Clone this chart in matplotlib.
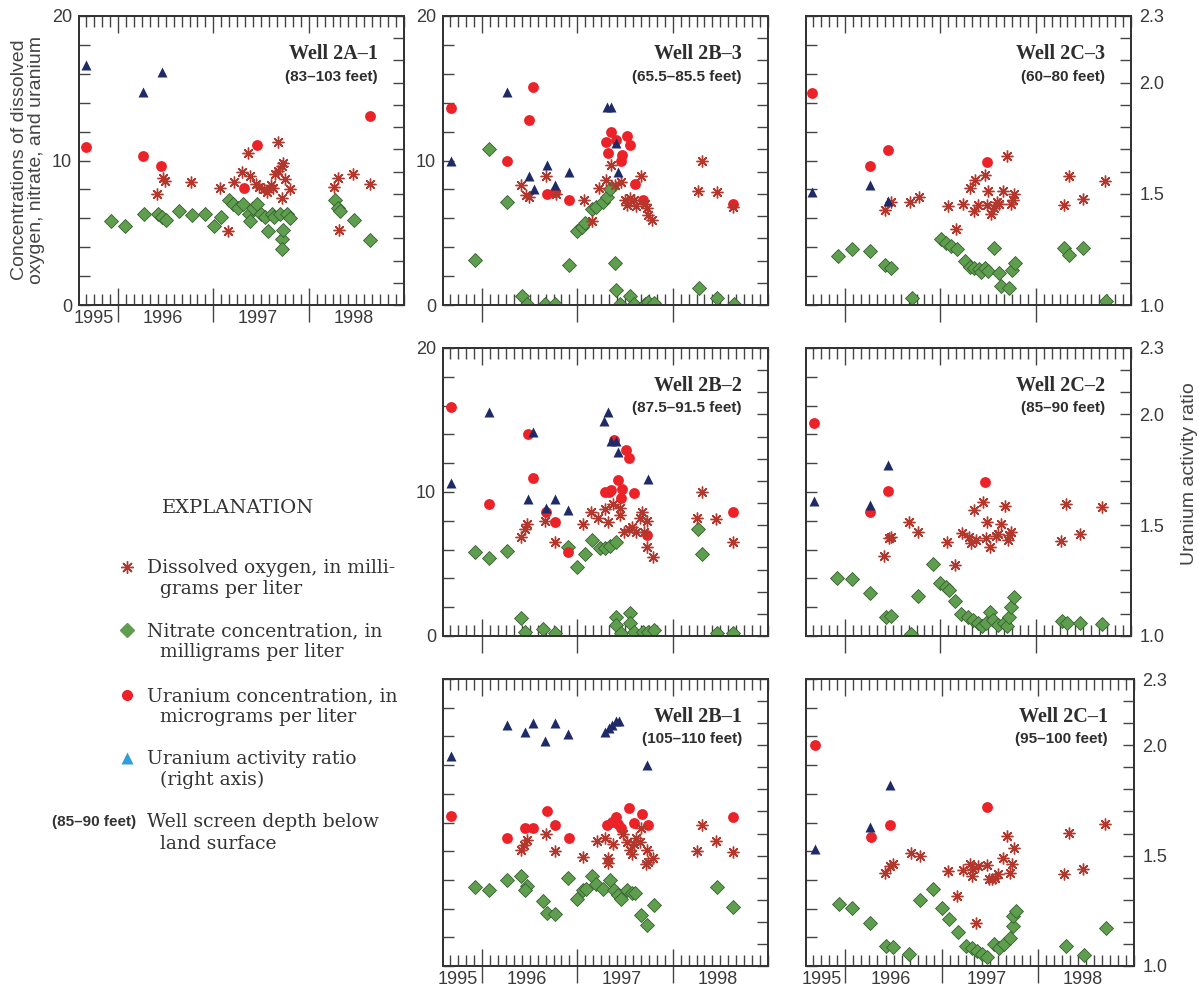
import matplotlib
matplotlib.use('Agg')
import matplotlib.pyplot as plt
import matplotlib.transforms as mtransforms
from matplotlib.ticker import MultipleLocator, FormatStrFormatter
import numpy as np

# values: (decimal year, value)
# oxygen / nitrate in mg/L, uranium in ug/L (left axis), activity ratio (right axis)

# Well 2A-1
A1_OXY = [(1996.41, 7.7), (1996.47, 8.8), (1996.49, 8.6), (1996.76, 8.5), (1997.07, 8.1), (1997.15, 5.1),
          (1997.22, 8.5), (1997.30, 9.2), (1997.36, 10.5), (1997.38, 8.9), (1997.45, 8.4), (1997.48, 8.2),
          (1997.53, 8.0), (1997.56, 7.8), (1997.60, 8.3), (1997.63, 8.1), (1997.65, 9.1), (1997.68, 9.3),
          (1997.68, 11.3), (1997.72, 9.6), (1997.73, 9.8), (1997.72, 7.4), (1997.75, 8.7), (1997.80, 8.0),
          (1998.27, 8.2), (1998.31, 8.8), (1998.32, 5.2), (1998.46, 9.1), (1998.64, 8.4)]
A1_NO3 = [(1995.93, 5.8), (1996.07, 5.5), (1996.27, 6.3), (1996.42, 6.3), (1996.46, 6.1), (1996.50, 5.9),
          (1996.64, 6.5), (1996.78, 6.2), (1996.91, 6.3), (1997.01, 5.5), (1997.08, 6.1), (1997.16, 7.3),
          (1997.21, 7.0), (1997.26, 6.7), (1997.31, 7.0), (1997.37, 6.3), (1997.38, 5.8), (1997.42, 6.7),
          (1997.46, 7.0), (1997.50, 6.3), (1997.54, 6.1), (1997.57, 5.1), (1997.61, 6.3), (1997.64, 6.1),
          (1997.70, 6.3), (1997.72, 4.6), (1997.73, 5.2), (1997.72, 3.9), (1997.77, 6.3), (1997.80, 6.0),
          (1998.28, 7.3), (1998.31, 6.7), (1998.33, 6.5), (1998.48, 5.9), (1998.64, 4.5)]
A1_U = [(1995.66, 10.9), (1996.26, 10.3), (1996.45, 9.6), (1997.32, 8.1), (1997.46, 11.1), (1998.64, 13.1)]
A1_RATIO = [(1995.66, 2.08), (1996.26, 1.96), (1996.46, 2.05)]

# Well 2B-3
B3_OXY = [(1996.41, 8.3), (1996.46, 7.6), (1996.49, 7.5), (1996.67, 8.9), (1996.78, 7.7), (1997.07, 7.3),
          (1997.15, 5.8), (1997.23, 8.1), (1997.30, 8.65), (1997.35, 9.7), (1997.39, 8.3), (1997.46, 8.5),
          (1997.50, 7.3), (1997.52, 6.9), (1997.55, 7.4), (1997.59, 7.3), (1997.61, 6.85), (1997.67, 8.9),
          (1997.71, 7.0), (1997.73, 6.7), (1997.74, 6.2), (1997.78, 5.9), (1998.27, 7.9), (1998.31, 10.0),
          (1998.46, 7.8), (1998.63, 6.8)]
B3_NO3 = [(1995.93, 3.1), (1996.07, 10.8), (1996.26, 7.1), (1996.42, 0.65), (1996.47, 0.1), (1996.66, 0.1),
          (1996.77, 0.1), (1996.91, 2.8), (1997.00, 5.1), (1997.05, 5.4), (1997.08, 5.65), (1997.15, 6.65),
          (1997.20, 6.8), (1997.27, 7.15), (1997.31, 7.5), (1997.34, 8.0), (1997.39, 2.9), (1997.41, 1.05),
          (1997.45, 0.1), (1997.55, 0.6), (1997.59, 0.1), (1997.71, 0.1), (1997.74, 0.2), (1997.80, 0.15),
          (1998.28, 1.2), (1998.47, 0.5), (1998.64, 0.1)]
B3_U = [(1995.67, 13.6), (1996.53, 15.1), (1996.49, 12.8), (1996.26, 10.0), (1996.68, 7.7), (1996.77, 7.8),
        (1996.91, 7.3), (1997.30, 11.3), (1997.35, 12.0), (1997.32, 10.5), (1997.41, 11.4), (1997.47, 10.4),
        (1997.46, 10.0), (1997.52, 11.7), (1997.55, 11.1), (1997.60, 8.4), (1997.69, 7.3), (1998.63, 7.0)]
B3_RATIO = [(1995.67, 1.65), (1996.26, 1.96), (1996.49, 1.58), (1996.54, 1.52), (1996.68, 1.63), (1996.77, 1.54),
            (1996.91, 1.60), (1997.31, 1.89), (1997.35, 1.89), (1997.41, 1.73), (1997.43, 1.60)]

# Well 2C-3
C3_OXY = [(1996.42, 6.6), (1996.48, 7.15), (1996.68, 7.15), (1996.78, 7.45), (1997.08, 6.85), (1997.16, 5.24),
          (1997.24, 7.0), (1997.31, 8.07), (1997.35, 6.53), (1997.36, 8.65), (1997.39, 6.92), (1997.47, 9.0),
          (1997.50, 7.9), (1997.49, 6.92), (1997.53, 6.3), (1997.56, 6.7), (1997.59, 7.15), (1997.62, 7.0),
          (1997.66, 7.9), (1997.70, 10.33), (1997.74, 7.0), (1997.76, 7.27), (1997.77, 7.7), (1998.30, 6.9),
          (1998.35, 8.9), (1998.50, 7.35), (1998.73, 8.55)]
C3_NO3 = [(1995.93, 3.4), (1996.07, 3.85), (1996.26, 3.76), (1996.42, 2.8), (1996.48, 2.54), (1996.70, 0.5),
          (1997.01, 4.54), (1997.06, 4.3), (1997.11, 4.08), (1997.17, 3.9), (1997.26, 3.07), (1997.31, 2.65),
          (1997.35, 2.54), (1997.40, 2.47), (1997.43, 2.3), (1997.47, 2.54), (1997.50, 2.38), (1997.56, 3.92),
          (1997.61, 2.2), (1997.64, 1.3), (1997.72, 1.15), (1997.75, 2.4), (1997.78, 2.9), (1998.30, 3.92),
          (1998.35, 3.46), (1998.50, 3.92), (1998.74, 0.28)]
C3_U = [(1995.65, 14.7), (1996.26, 9.64), (1996.45, 10.7), (1997.49, 9.9)]
C3_RATIO = [(1995.65, 1.51), (1996.26, 1.54), (1996.45, 1.47)]

# Well 2B-2
B2_OXY = [(1996.41, 6.9), (1996.45, 7.4), (1996.47, 7.8), (1996.66, 8.0), (1996.76, 6.5), (1997.06, 7.8),
          (1997.14, 8.6), (1997.22, 8.2), (1997.29, 8.8), (1997.32, 7.9), (1997.37, 9.2), (1997.45, 8.9),
          (1997.45, 8.4), (1997.49, 7.25), (1997.54, 7.4), (1997.57, 7.55), (1997.61, 7.2), (1997.66, 8.2),
          (1997.68, 8.6), (1997.70, 7.25), (1997.73, 8.0), (1997.73, 6.2), (1997.79, 5.5), (1998.26, 8.2),
          (1998.31, 10.0), (1998.45, 8.1), (1998.63, 6.5)]
B2_NO3 = [(1995.93, 5.8), (1996.07, 5.4), (1996.26, 5.9), (1996.41, 1.23), (1996.45, 0.3), (1996.64, 0.46),
          (1996.77, 0.23), (1996.90, 6.16), (1997.00, 4.8), (1997.08, 5.7), (1997.15, 6.67), (1997.24, 6.1),
          (1997.29, 6.1), (1997.34, 6.26), (1997.40, 6.5), (1997.40, 1.3), (1997.41, 0.76), (1997.46, 0.2),
          (1997.55, 1.6), (1997.55, 0.9), (1997.59, 0.3), (1997.69, 0.3), (1997.74, 0.3), (1997.80, 0.4),
          (1998.27, 7.4), (1998.31, 5.7), (1998.47, 0.2), (1998.63, 0.23)]
B2_U = [(1995.67, 15.9), (1996.07, 9.2), (1996.48, 14.0), (1996.53, 11.0), (1996.67, 8.6), (1996.77, 7.95),
        (1996.90, 5.8), (1997.29, 10.0), (1997.33, 10.0), (1997.35, 10.15), (1997.38, 13.6), (1997.43, 10.85),
        (1997.47, 10.2), (1997.46, 9.6), (1997.51, 12.9), (1997.54, 12.35), (1997.59, 9.9), (1997.73, 7.0),
        (1998.63, 8.6)]
B2_RATIO = [(1995.67, 1.69), (1996.07, 2.01), (1996.53, 1.92), (1996.48, 1.62), (1996.67, 1.58), (1996.76, 1.62),
            (1996.90, 1.57), (1997.28, 1.97), (1997.32, 2.01), (1997.35, 1.88), (1997.40, 1.88), (1997.43, 1.83),
            (1997.74, 1.71)]

# Well 2C-2
C2_OXY = [(1996.41, 5.56), (1996.46, 6.8), (1996.48, 6.9), (1996.67, 7.95), (1996.77, 7.25), (1997.07, 6.5),
          (1997.15, 4.94), (1997.23, 7.14), (1997.30, 6.9), (1997.32, 6.44), (1997.35, 8.76), (1997.37, 6.67),
          (1997.45, 9.34), (1997.48, 6.8), (1997.49, 7.9), (1997.52, 6.16), (1997.58, 6.95), (1997.60, 7.1),
          (1997.64, 7.8), (1997.68, 9.0), (1997.71, 6.67), (1997.72, 7.0), (1997.74, 7.25), (1998.27, 6.6),
          (1998.32, 9.2), (1998.46, 7.1), (1998.70, 8.95)]
C2_NO3 = [(1995.92, 4.0), (1996.07, 3.94), (1996.26, 3.0), (1996.43, 1.35), (1996.48, 1.4), (1996.69, 0.14),
          (1996.76, 2.8), (1996.92, 5.0), (1997.00, 3.7), (1997.06, 3.43), (1997.09, 3.2), (1997.15, 2.4),
          (1997.22, 1.5), (1997.29, 1.3), (1997.34, 1.1), (1997.39, 0.88), (1997.44, 0.7), (1997.48, 0.88),
          (1997.52, 1.7), (1997.55, 1.1), (1997.60, 0.76), (1997.67, 0.88), (1997.70, 0.7), (1997.72, 1.35),
          (1997.74, 2.0), (1997.77, 2.73), (1998.28, 1.07), (1998.33, 0.93), (1998.47, 0.88), (1998.70, 0.8)]
C2_U = [(1995.67, 14.8), (1996.26, 8.6), (1996.45, 10.1), (1997.47, 10.7)]
C2_RATIO = [(1995.67, 1.61), (1996.26, 1.59), (1996.45, 1.77)]

# Well 2B-1
B1_OXY = [(1996.41, 8.1), (1996.44, 8.4), (1996.47, 8.8), (1996.67, 9.2), (1996.76, 8.0), (1997.06, 7.6),
          (1997.21, 8.7), (1997.29, 8.9), (1997.32, 7.5), (1997.32, 7.2), (1997.37, 8.5), (1997.48, 9.2),
          (1997.52, 8.65), (1997.55, 8.1), (1997.57, 7.8), (1997.59, 8.5), (1997.61, 8.9), (1997.66, 8.65),
          (1997.67, 9.6), (1997.73, 8.1), (1997.72, 7.1), (1997.74, 7.25), (1997.79, 7.5), (1998.26, 8.0),
          (1998.31, 9.8), (1998.45, 8.7), (1998.63, 7.97)]
B1_NO3 = [(1995.93, 5.5), (1996.07, 5.3), (1996.26, 6.0), (1996.41, 6.3), (1996.47, 5.6), (1996.45, 5.3),
          (1996.64, 4.5), (1996.68, 3.7), (1996.77, 3.6), (1996.90, 6.1), (1997.00, 4.7), (1997.06, 5.3),
          (1997.09, 5.4), (1997.15, 6.3), (1997.20, 5.7), (1997.27, 5.35), (1997.34, 6.0), (1997.38, 5.3),
          (1997.43, 4.95), (1997.46, 4.7), (1997.52, 5.3), (1997.57, 5.06), (1997.60, 5.1), (1997.67, 3.55),
          (1997.73, 2.86), (1997.80, 4.25), (1998.46, 5.5), (1998.63, 4.13)]
B1_U = [(1995.67, 10.45), (1996.26, 8.9), (1996.45, 9.6), (1996.53, 9.6), (1996.68, 10.8), (1996.77, 9.8),
        (1996.91, 8.9), (1997.31, 9.8), (1997.36, 10.06), (1997.41, 10.4), (1997.43, 9.9), (1997.46, 9.6),
        (1997.54, 11.0), (1997.59, 10.0), (1997.68, 10.6), (1997.74, 9.8), (1998.63, 10.4)]
B1_RATIO = [(1995.67, 1.95), (1996.26, 2.09), (1996.45, 2.06), (1996.53, 2.10), (1996.66, 2.02), (1996.76, 2.10),
            (1996.90, 2.05), (1997.29, 2.06), (1997.33, 2.08), (1997.36, 2.09), (1997.40, 2.11), (1997.44, 2.11),
            (1997.73, 1.91)]

# Well 2C-1
C1_OXY = [(1996.41, 6.5), (1996.46, 7.0), (1996.49, 7.1), (1996.68, 7.84), (1996.77, 7.67), (1997.07, 6.6),
          (1997.16, 4.9), (1997.22, 6.7), (1997.29, 7.1), (1997.32, 6.3), (1997.33, 6.74), (1997.36, 3.0),
          (1997.38, 7.0), (1997.47, 7.05), (1997.49, 6.05), (1997.52, 6.05), (1997.55, 6.16), (1997.59, 6.44),
          (1997.64, 7.56), (1997.68, 9.07), (1997.71, 6.5), (1997.73, 7.14), (1997.75, 8.2), (1998.27, 6.44),
          (1998.32, 9.3), (1998.47, 6.74), (1998.70, 9.93)]
C1_NO3 = [(1995.93, 4.3), (1996.07, 4.07), (1996.26, 3.02), (1996.42, 1.4), (1996.49, 1.33), (1996.66, 0.86),
          (1996.78, 4.6), (1996.91, 5.35), (1997.00, 4.07), (1997.08, 3.26), (1997.17, 2.4), (1997.25, 1.4),
          (1997.32, 1.23), (1997.37, 1.05), (1997.42, 0.86), (1997.47, 0.63), (1997.54, 1.5), (1997.60, 1.23),
          (1997.65, 1.5), (1997.71, 1.98), (1997.74, 2.8), (1997.74, 3.5), (1997.77, 3.84), (1998.29, 1.4),
          (1998.48, 0.8), (1998.71, 2.63)]
C1_U = [(1995.68, 15.4), (1996.27, 9.0), (1996.46, 9.84), (1997.47, 11.05)]
C1_RATIO = [(1995.68, 1.53), (1996.26, 1.63), (1996.46, 1.82)]

YEAR_LABELS = ['1995', '1996', '1997', '1998']
YEAR_LABEL_X = [1995.75, 1996.47, 1997.47, 1998.47]

OXY_C = '#b3372c'
NO3_C = '#5f9e4f'
NO3_EDGE = '#35602e'
U_C = '#ec2229'
RATIO_C = '#1f2a68'
RATIO_LEG = '#2f9fd8'
TXT = '#3a3a3a'

W, H = 1199, 991
fig = plt.figure(figsize=(W / 100, H / 100), dpi=100)


def box(x0, y0, x1, y1):
    return [x0 / W, 1 - y1 / H, (x1 - x0) / W, (y1 - y0) / H]


def draw_panel(pos, title, depth, oxy, no3, uran, ratio, left_lab, right_lab, years):
    ax = fig.add_axes(pos)
    ax.set_xlim(1995.59, 1999.0)
    ax.set_ylim(0, 20)

    x, y = np.array(no3).T
    ax.plot(x, y, ls='none', marker='D', ms=7, mfc=NO3_C, mec=NO3_EDGE, mew=0.6, zorder=2)
    x, y = np.array(uran).T
    ax.plot(x, y, ls='none', marker='o', ms=7.8, mfc=U_C, mec='none', zorder=3)
    x, y = np.array(oxy).T
    ax.plot(x, y, ls='none', marker=(8, 2, 0), ms=8.5, mec=OXY_C, mew=1.0, zorder=4)

    rx = ax.twinx()
    rx.set_ylim(1.0, 2.3)
    x, y = np.array(ratio).T
    rx.plot(x, y, ls='none', marker='^', ms=7.8, mfc=RATIO_C, mec='none', zorder=5)

    for a in (ax, rx):
        for s in a.spines.values():
            s.set_color('#333333')
            s.set_linewidth(1.3)

    ax.set_yticks([0, 10, 20])
    ax.yaxis.set_minor_locator(MultipleLocator(2))
    ax.tick_params(axis='y', which='both', direction='in', length=8, width=1,
                   color='#444444', labelsize=13, labelcolor=TXT, pad=5, labelleft=left_lab)

    rx.set_yticks([1.0, 1.5, 2.0, 2.3])
    rx.yaxis.set_minor_locator(MultipleLocator(0.1))
    rx.yaxis.set_major_formatter(FormatStrFormatter('%.1f'))
    rx.tick_params(axis='y', which='both', direction='in', length=8, width=1,
                   color='#444444', labelsize=13, labelcolor=TXT, pad=6, labelright=right_lab)

    ax.set_xticks([1996, 1997, 1998])
    ax.xaxis.set_minor_locator(MultipleLocator(1 / 12))
    ax.tick_params(axis='x', which='minor', direction='in', length=8, width=1,
                   top=True, bottom=True, color='#444444')
    ax.tick_params(axis='x', which='major', direction='inout', length=24, width=1,
                   top=False, bottom=True, color='#444444', labelbottom=False)
    sec = ax.secondary_xaxis('top')
    sec.set_xticks([1996, 1997, 1998])
    sec.tick_params(direction='in', length=12, width=1, color='#444444', labeltop=False)
    sec.spines['top'].set_visible(False)

    if years:
        tr = mtransforms.blended_transform_factory(ax.transData, ax.transAxes)
        for lab, xc in zip(YEAR_LABELS, YEAR_LABEL_X):
            ax.text(xc, -0.047, lab, transform=tr, ha='center', va='center',
                    fontsize=13, color=TXT, family='Liberation Sans')

    ax.text(0.92, 0.868, title, transform=ax.transAxes, ha='right', va='center',
            fontsize=14.5, fontweight='bold', family='Liberation Serif', color='#2e2e2e', zorder=6)
    ax.text(0.92, 0.79, depth, transform=ax.transAxes, ha='right', va='center',
            fontsize=11, fontweight='bold', family='Liberation Sans', color='#2e2e2e', zorder=6)
    return ax


plt.rcParams['font.family'] = ['Liberation Sans', 'DejaVu Sans']

draw_panel(box(79, 16, 404, 305), 'Well 2A–1', '(83–103 feet)', A1_OXY, A1_NO3, A1_U, A1_RATIO, True, False, True)
draw_panel(box(443, 16, 768, 305), 'Well 2B–3', '(65.5–85.5 feet)', B3_OXY, B3_NO3, B3_U, B3_RATIO, True, False, False)
draw_panel(box(806, 16, 1131, 305), 'Well 2C–3', '(60–80 feet)', C3_OXY, C3_NO3, C3_U, C3_RATIO, False, True, False)
draw_panel(box(443, 348, 768, 636), 'Well 2B–2', '(87.5–91.5 feet)', B2_OXY, B2_NO3, B2_U, B2_RATIO, True, False, False)
draw_panel(box(806, 348, 1131, 636), 'Well 2C–2', '(85–90 feet)', C2_OXY, C2_NO3, C2_U, C2_RATIO, False, True, False)
draw_panel(box(443, 679, 768, 966), 'Well 2B–1', '(105–110 feet)', B1_OXY, B1_NO3, B1_U, B1_RATIO, False, False, True)
draw_panel(box(806, 679, 1134, 966), 'Well 2C–1', '(95–100 feet)', C1_OXY, C1_NO3, C1_U, C1_RATIO, False, True, True)

# axis titles
fig.text(28 / W, 1 - 160 / H, 'Concentrations of dissolved\noxygen, nitrate, and uranium',
         rotation=90, ha='center', va='center', fontsize=14, color='#444444', linespacing=1.05)
fig.text(1190 / W, 1 - 474 / H, 'Uranium activity ratio', rotation=90, ha='center', va='center',
         fontsize=14, color='#444444')

# explanation block
lax = fig.add_axes([0, 0, 1, 1])
lax.set_xlim(0, W)
lax.set_ylim(H, 0)
lax.axis('off')
SERIF = 'DejaVu Serif'
LEG_FS = 13.5
lax.text(238, 508, 'EXPLANATION', ha='center', va='center', fontsize=14, family=SERIF, color='#333333')
entries = [
    ((8, 2, 0), dict(mec=OXY_C, mew=1.0, ms=9), 567, 'Dissolved oxygen, in milli-', 'grams per liter'),
    ('D', dict(mfc=NO3_C, mec=NO3_C, ms=7), 630, 'Nitrate concentration, in', 'milligrams per liter'),
    ('o', dict(mfc=U_C, mec='none', ms=8), 695, 'Uranium concentration, in', 'micrograms per liter'),
    ('^', dict(mfc=RATIO_LEG, mec='none', ms=8), 758, 'Uranium activity ratio', '(right axis)'),
]
for mk, kw, yy, l1, l2 in entries:
    lax.plot([127], [yy], ls='none', marker=mk, **kw)
    lax.text(147, yy + 1, l1, ha='left', va='center', fontsize=LEG_FS, family=SERIF, color='#333333')
    lax.text(160, yy + 22, l2, ha='left', va='center', fontsize=LEG_FS, family=SERIF, color='#333333')
lax.text(136, 822, '(85–90 feet)', ha='right', va='center', fontsize=11, fontweight='bold', color='#333333')
lax.text(147, 822, 'Well screen depth below', ha='left', va='center', fontsize=LEG_FS, family=SERIF, color='#333333')
lax.text(160, 844, 'land surface', ha='left', va='center', fontsize=LEG_FS, family=SERIF, color='#333333')

fig.savefig('out.png', dpi=100, facecolor='white')
